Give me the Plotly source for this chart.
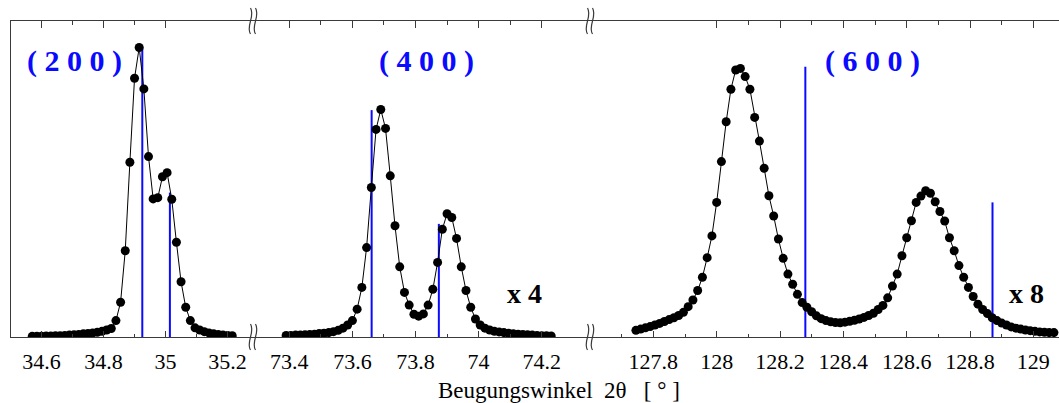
import plotly.graph_objects as go

W, H = 1059, 403

# ---------------- data ----------------
# (200) reflection
x200 = [34.570, 34.585, 34.600, 34.615, 34.630, 34.645, 34.660, 34.675, 34.690, 34.705,
        34.720, 34.735, 34.750, 34.765, 34.780, 34.795, 34.810, 34.825, 34.840, 34.855,
        34.870, 34.885, 34.900, 34.915, 34.930, 34.945, 34.960, 34.975, 34.990, 35.005,
        35.020, 35.035, 35.050, 35.065, 35.080, 35.095, 35.110, 35.125, 35.140, 35.155,
        35.170, 35.185, 35.200, 35.215]
y200 = [0.2, 0.2, 0.2, 0.3, 0.3, 0.4, 0.4, 0.5, 0.6, 0.7,
        0.8, 1.0, 1.1, 1.3, 1.5, 1.8, 2.2, 2.7, 5.2, 11.0,
        27.3, 55.3, 81.9, 91.6, 78.5, 57.1, 43.7, 44.1, 50.7, 52.0,
        43.6, 30.0, 17.5, 9.4, 5.2, 2.9, 2.2, 1.7, 1.3, 1.0,
        0.8, 0.6, 0.5, 0.4]

# (400) reflection (x 4)
x400 = [73.390, 73.405, 73.420, 73.435, 73.450, 73.465, 73.480, 73.495, 73.510, 73.525,
        73.540, 73.555, 73.570, 73.585, 73.600, 73.615, 73.630, 73.645, 73.660, 73.675,
        73.690, 73.705, 73.720, 73.735, 73.750, 73.765, 73.780, 73.795, 73.810, 73.825,
        73.840, 73.855, 73.870, 73.885, 73.900, 73.915, 73.930, 73.945, 73.960, 73.975,
        73.990, 74.005, 74.020, 74.035, 74.050, 74.065, 74.080, 74.095, 74.110, 74.125,
        74.140, 74.155, 74.170, 74.185, 74.200, 74.215, 74.230]
y400 = [0.5, 0.5, 0.6, 0.6, 0.7, 0.8, 0.9, 1.1, 1.2, 1.4,
        1.7, 2.1, 2.8, 3.8, 5.2, 8.8, 15.7, 28.3, 47.3, 65.7,
        72.0, 66.0, 51.0, 35.2, 22.2, 14.1, 10.1, 7.2, 6.6, 7.3,
        10.1, 15.1, 23.6, 34.1, 39.0, 37.8, 31.2, 22.2, 14.7, 9.4,
        5.7, 3.8, 2.8, 2.2, 1.8, 1.6, 1.4, 1.2, 1.0, 0.9,
        0.8, 0.7, 0.6, 0.5, 0.4, 0.4, 0.3]

# (600) reflection (x 8)
x600 = [127.745, 127.760, 127.775, 127.790, 127.805, 127.820, 127.835, 127.850, 127.865, 127.880,
        127.895, 127.910, 127.925, 127.940, 127.955, 127.970, 127.985, 128.000, 128.015, 128.030,
        128.045, 128.060, 128.075, 128.090, 128.105, 128.120, 128.135, 128.150, 128.165, 128.180,
        128.195, 128.210, 128.225, 128.240, 128.255, 128.270, 128.285, 128.300, 128.315, 128.330,
        128.345, 128.360, 128.375, 128.390, 128.405, 128.420, 128.435, 128.450, 128.465, 128.480,
        128.495, 128.510, 128.525, 128.540, 128.555, 128.570, 128.585, 128.600, 128.615, 128.630,
        128.645, 128.660, 128.675, 128.690, 128.705, 128.720, 128.735, 128.750, 128.765, 128.780,
        128.795, 128.810, 128.825, 128.840, 128.855, 128.870, 128.885, 128.900, 128.915, 128.930,
        128.945, 128.960, 128.975, 128.990, 129.005, 129.020, 129.035, 129.050, 129.065]
y600 = [2.1, 2.5, 2.9, 3.3, 3.8, 4.3, 4.9, 5.5, 6.1, 6.8,
        7.8, 9.6, 11.7, 14.7, 18.9, 25.1, 32.0, 42.6, 55.5, 68.1,
        78.4, 84.5, 85.0, 82.4, 78.4, 69.5, 62.0, 53.4, 44.7, 38.3,
        31.0, 24.9, 19.9, 16.7, 13.5, 10.9, 9.4, 8.0, 6.7, 5.8,
        5.2, 4.8, 4.6, 4.5, 4.7, 5.0, 5.3, 5.7, 6.2, 6.8,
        7.5, 8.7, 10.0, 12.4, 16.1, 19.9, 25.7, 31.4, 36.8, 42.6,
        44.6, 46.3, 45.5, 42.8, 39.7, 36.7, 31.4, 27.3, 22.6, 18.9,
        15.7, 12.8, 10.4, 8.7, 7.4, 6.1, 5.2, 4.4, 3.8, 3.2,
        2.8, 2.5, 2.2, 2.0, 1.8, 1.6, 1.5, 1.4, 1.4]

# reference (blue) lines: positions and heights
ref200_x = [34.925, 35.014]
ref200_h = [91.9, 45.7]
ref400_x = [73.661, 73.874]
ref400_h = [71.8, 35.8]
ref600_x = [128.280, 128.871]
ref600_h = [85.5, 42.6]

# tick labels
ticks200 = [34.6, 34.8, 35.0, 35.2]
ticks200_txt = ["34.6", "34.8", "35", "35.2"]
ticks400 = [73.4, 73.6, 73.8, 74.0, 74.2]
ticks400_txt = ["73.4", "73.6", "73.8", "74", "74.2"]
ticks600 = [127.8, 128.0, 128.2, 128.4, 128.6, 128.8, 129.0]
ticks600_txt = ["127.8", "128", "128.2", "128.4", "128.6", "128.8", "129"]
minor200 = [34.7, 34.9, 35.1]
minor400 = [73.5, 73.7, 73.9, 74.1]
minor600 = [127.7, 127.9, 128.1, 128.3, 128.5, 128.7, 128.9]
top200 = [34.6, 34.8, 35.0]
topminor200 = [34.7, 34.9]
top600 = [128.0, 128.2, 128.4, 128.6, 128.8, 129.0]
topminor600 = [128.1, 128.3, 128.5, 128.7, 128.9]

# ---------------- layout helpers ----------------
def px_x(p):
    return p / W

def px_y(p):
    return 1 - p / H

FONT = "Liberation Serif"
AX = "#3a3a3a"
BLUE = "#0a0aff"
y_dom = [px_y(337), px_y(21)]
doms = [[px_x(11), px_x(253)], [px_x(253), px_x(590)], [px_x(590), 1.0]]
ranges = [[34.5016, 35.282], [73.285, 74.353], [127.600, 129.081]]

fig = go.Figure()

panels = [
    (x200, y200, ref200_x, ref200_h),
    (x400, y400, ref400_x, ref400_h),
    (x600, y600, ref600_x, ref600_h),
]
for i, (xs, ys, rx, rh) in enumerate(panels):
    xa = "x" if i == 0 else f"x{i + 1}"
    lx, ly = [], []
    for xv, hv in zip(rx, rh):
        lx += [xv, xv, None]
        ly += [0, hv, None]
    fig.add_trace(go.Scatter(x=lx, y=ly, mode="lines", xaxis=xa, yaxis="y",
                             line=dict(color=BLUE, width=2), hoverinfo="skip"))
    fig.add_trace(go.Scatter(x=xs, y=ys, mode="lines+markers", xaxis=xa, yaxis="y",
                             line=dict(color="black", width=1),
                             marker=dict(color="black", size=9)))
# empty traces for the top axes
for k in (4, 5, 6):
    fig.add_trace(go.Scatter(x=[], y=[], xaxis=f"x{k}", yaxis="y", hoverinfo="skip"))

def bottom_axis(dom, rng, tv, tt, minor):
    return dict(domain=dom, range=rng, anchor="y", side="bottom",
                showline=True, linecolor=AX, linewidth=1,
                showgrid=False, zeroline=False,
                ticks="inside", ticklen=6, tickwidth=1, tickcolor=AX,
                tickmode="array", tickvals=tv, ticktext=tt,
                minor=dict(tickmode="array", tickvals=minor, ticks="inside",
                           ticklen=3.5, tickwidth=1, tickcolor=AX),
                tickfont=dict(family=FONT, size=22, color="black"),
                ticklabelstandoff=5)

def top_axis(over, rng, tv, minor):
    return dict(overlaying=over, range=rng, anchor="y", side="top",
                showline=True, linecolor=AX, linewidth=1,
                showgrid=False, zeroline=False,
                ticks="inside", ticklen=7, tickwidth=1, tickcolor=AX,
                tickmode="array", tickvals=tv, showticklabels=False,
                minor=dict(tickmode="array", tickvals=minor, ticks="inside",
                           ticklen=4, tickwidth=1, tickcolor=AX))

layout = dict(
    width=W, height=H,
    margin=dict(l=0, r=0, t=0, b=0),
    paper_bgcolor="white", plot_bgcolor="white",
    showlegend=False,
    xaxis=bottom_axis(doms[0], ranges[0], ticks200, ticks200_txt, minor200),
    xaxis2=bottom_axis(doms[1], ranges[1], ticks400, ticks400_txt, minor400),
    xaxis3=bottom_axis(doms[2], ranges[2], ticks600, ticks600_txt, minor600),
    xaxis4=top_axis("x", ranges[0], top200, topminor200),
    xaxis5=top_axis("x2", ranges[1], ticks400, minor400),
    xaxis6=top_axis("x3", ranges[2], top600, topminor600),
    yaxis=dict(domain=y_dom, range=[0, 100], anchor="x",
               showline=True, linecolor=AX, linewidth=1,
               showgrid=False, zeroline=False, ticks="", showticklabels=False),
)
fig.update_layout(**layout)

# axis-break marks
shapes = []
for bx in (253, 590):
    for by in (21, 337):
        for dx in (-2.5, 2.5):
            x0 = bx + dx
            pts = [(x0, by - 13), (x0 + 5, by - 5), (x0 - 5, by + 5), (x0, by + 13)]
            p = [(px_x(a), px_y(b)) for a, b in pts]
            path = (f"M {p[0][0]},{p[0][1]} C {p[1][0]},{p[1][1]} "
                    f"{p[2][0]},{p[2][1]} {p[3][0]},{p[3][1]}")
            shapes.append(dict(type="path", path=path, xref="paper", yref="paper",
                               line=dict(color=AX, width=1.2)))
fig.update_layout(shapes=shapes)

ann = []
for txt, cx in (("( 2 0 0 )", 74), ("( 4 0 0 )", 426), ("( 6 0 0 )", 872)):
    ann.append(dict(text=f"<b>{txt}</b>", x=px_x(cx), y=px_y(61), xref="paper", yref="paper",
                    xanchor="center", yanchor="middle", showarrow=False,
                    font=dict(family=FONT, size=30, color=BLUE)))
for txt, cx in (("x 4", 524), ("x 8", 1026)):
    ann.append(dict(text=f"<b>{txt}</b>", x=px_x(cx), y=px_y(293), xref="paper", yref="paper",
                    xanchor="center", yanchor="middle", showarrow=False,
                    font=dict(family=FONT, size=28, color="black")))
ann.append(dict(text="Beugungswinkel\u00a0\u00a02θ\u00a0\u00a0\u00a0[\u00a0°\u00a0]",
                x=px_x(559), y=px_y(390), xref="paper", yref="paper",
                xanchor="center", yanchor="middle", showarrow=False,
                font=dict(family=FONT, size=23, color="black")))
fig.update_layout(annotations=ann)

fig.write_html("out.html")
